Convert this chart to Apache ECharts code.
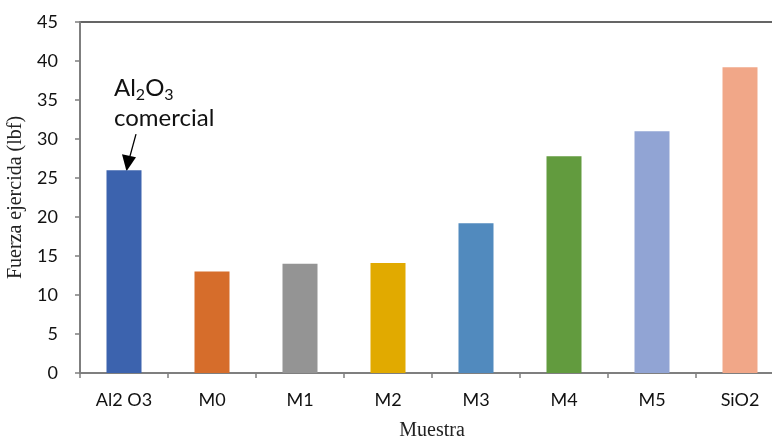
<!DOCTYPE html>
<html>
<head>
<meta charset="utf-8">
<script src="https://cdn.jsdelivr.net/npm/echarts@6/dist/echarts.min.js"></script>
<style>
  html, body { margin: 0; padding: 0; background: #fff; }
  #chart { width: 772px; height: 441px; }
</style>
</head>
<body>
<div id="chart"></div>
<script>
var muestras = ["Al2 O3", "M0", "M1", "M2", "M3", "M4", "M5", "SiO2"];
var fuerza = [26.0, 13.0, 14.0, 14.1, 19.2, 27.8, 31.0, 39.2];
var colores = ["#3C63AE", "#D66D2B", "#949494", "#E1AA00", "#518ABE", "#629B3E", "#91A4D4", "#F1A788"];

var chart = echarts.init(document.getElementById("chart"));
var axisGray = "#7f7f7f";

chart.setOption({
  animation: false,
  backgroundColor: "#fff",
  grid: {
    left: 80,
    top: 22,
    right: -12,
    bottom: 68,
    outerBoundsMode: "none",
    containLabel: false,
    show: true,
    borderColor: "#333",
    borderWidth: 1.5,
  },
  xAxis: {
    type: "category",
    data: muestras,
    name: "Muestra",
    nameLocation: "middle",
    nameGap: 48,
    nameTextStyle: {
      fontFamily: "Liberation Serif",
      fontSize: 20,
      color: "#222",
    },
    axisLine: { lineStyle: { color: axisGray, width: 2 } },
    axisTick: { show: true, length: 5, lineStyle: { color: axisGray, width: 1.5 } },
    axisLabel: {
      margin: 18,
      fontFamily: "Lato",
      fontSize: 18,
      color: "#111",
    },
  },
  yAxis: {
    type: "value",
    min: 0,
    max: 45,
    interval: 5,
    name: "Fuerza ejercida (lbf)",
    nameLocation: "middle",
    nameGap: 45,
    nameTextStyle: {
      fontFamily: "Liberation Serif",
      fontSize: 20,
      color: "#222",
    },
    axisLine: { show: true, lineStyle: { color: axisGray, width: 2 } },
    axisTick: { show: true, length: 5, lineStyle: { color: axisGray, width: 1.5 } },
    splitLine: { show: false },
    axisLabel: {
      margin: 22,
      fontFamily: "Lato",
      fontSize: 18,
      color: "#111",
    },
  },
  series: [
    {
      type: "bar",
      barWidth: 35,
      data: fuerza.map(function (v, i) {
        return { value: v, itemStyle: { color: colores[i] } };
      }),
    },
  ],
});

// anotación con flecha sobre la primera barra
var tip = chart.convertToPixel({ seriesIndex: 0 }, [0, fuerza[0]]);
var cx = tip[0], ty = tip[1];
chart.setOption({
  graphic: [
    {
      type: "text",
      left: cx - 10,
      top: ty - 97,
      style: {
        text: "Al{s|2}O{s|3}\ncomercial",
        fontFamily: "Lato",
        fontSize: 24,
        lineHeight: 30,
        fill: "#111",
        rich: {
          s: { fontSize: 16, fontFamily: "Lato", verticalAlign: "bottom", lineHeight: 22 },
        },
      },
    },
    {
      type: "line",
      shape: { x1: cx + 12, y1: ty - 36, x2: cx + 6, y2: ty - 14 },
      style: { stroke: "#000", lineWidth: 1.3 },
    },
    {
      type: "polygon",
      shape: { points: [[cx + 2.5, ty + 1], [cx - 2, ty - 16], [cx + 12, ty - 13]] },
      style: { fill: "#000" },
    },
  ],
});
</script>
</body>
</html>
